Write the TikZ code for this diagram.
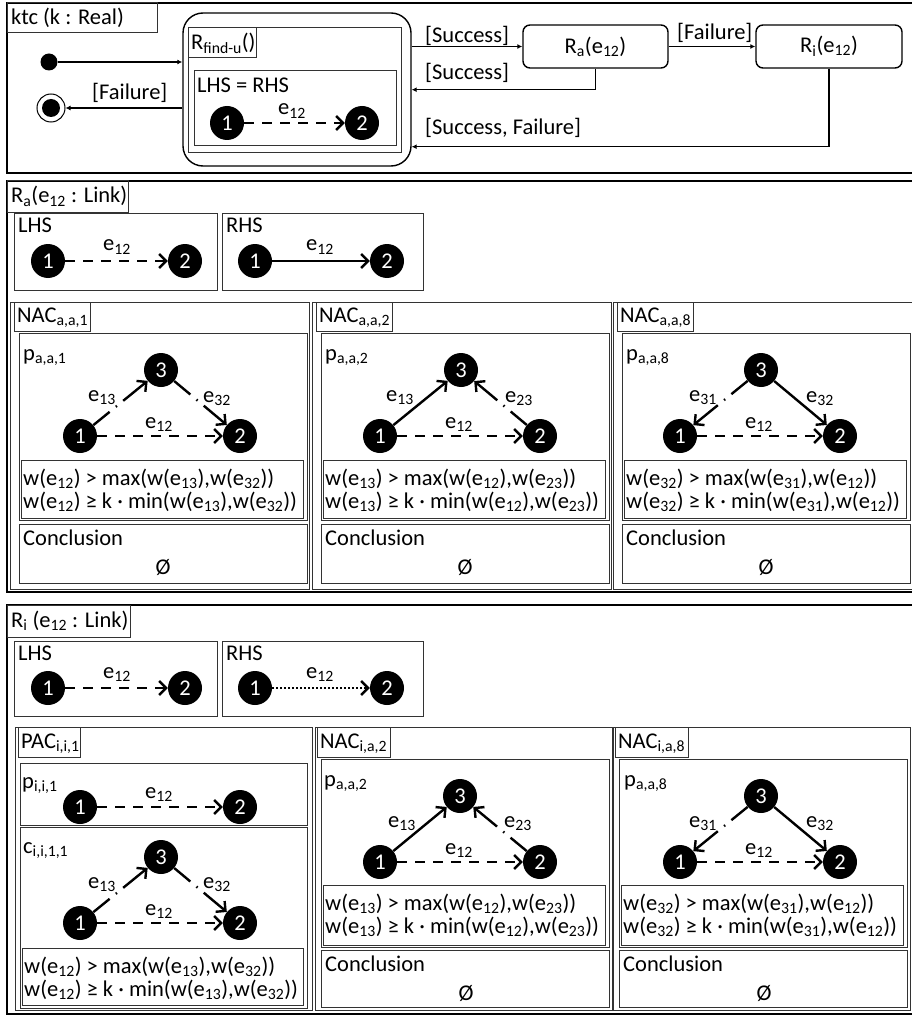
\documentclass[tikz,border=0pt]{standalone}
\usepackage{fontspec}
\setmainfont{Carlito}
\usetikzlibrary{arrows.meta}
\newcommand\elab[1]{e\textsubscript{#1}}
\newcommand\wtx[1]{w(e\textsubscript{#1})}
\begin{document}
\begin{tikzpicture}[x=1pt,y=-1pt,
  every node/.style={font=\fontsize{22.5}{24}\selectfont},
  txt/.style={inner sep=0pt, anchor=base west},
  ctxt/.style={inner sep=0pt, anchor=base},
  frame/.style={draw=black, line width=1.4pt},
  box/.style={draw=black!80, line width=1pt},
  vtx/.style={circle, fill=black, text=white, minimum size=34pt, inner sep=0pt},
  edge/.style={line width=2.4pt, -{Straight Barb[length=7pt,width=14pt]}},
  dsh/.style={edge, dash pattern=on 10pt off 8pt},
  dd/.style={edge, dash pattern=on 21pt off 8pt on 1.5pt off 8pt on 300pt off 1pt},
  dots/.style={edge, dash pattern=on 2pt off 2pt},
  flow/.style={line width=1.4pt, -{Latex[length=5pt,width=5pt]}},
]
\useasboundingbox (0,0) rectangle (911,1016);

% ---------------- control flow: ktc ----------------
\draw[frame] (914,3) -| (7,173) -- (914,173);
\draw[box] (7,3) rectangle (157,33);
\node[txt] (ktc) at (11,25) {ktc (k : Real)};

\node[draw, line width=1.4pt, rounded corners=20pt, minimum width=228pt, minimum height=153pt, inner sep=0pt] (rfind) at (297,89.5) {};
\draw[box] (188,28) rectangle (401,153);
\draw[box] (188,28) rectangle (256,58);
\node[txt] (rfindlab) at (191,50) {R\textsubscript{find-u}()};
\draw[box] (194,71) rectangle (396,146);
\node[txt] (lhsrhs) at (197,93) {LHS = RHS};
\node[vtx] (t1) at (227,123) {1};
\node[vtx] (t2) at (362,123) {2};
\draw[dsh] (t1) -- (t2);
\node[ctxt] (t12) at (292,115) {\elab{12}};

\node[circle, fill=black, minimum size=17pt, inner sep=0pt] (init) at (49,62) {};
\node[circle, draw=black, line width=1pt, minimum size=28pt, inner sep=0pt] (final) at (51,108) {};
\node[circle, fill=black, minimum size=18pt, inner sep=0pt] (finaldot) at (final.center) {};

\node[draw, line width=1.4pt, rounded corners=7pt, minimum width=145pt, minimum height=43pt] (ra) at (595.5,46.5) {R\textsubscript{a}(e\textsubscript{12})};
\node[draw, line width=1.4pt, rounded corners=7pt, minimum width=146pt, minimum height=43pt] (ri) at (829,46.5) {R\textsubscript{i}(e\textsubscript{12})};

\draw[flow] (init) -- (init -| rfind.west);
\draw[flow] (final -| rfind.west) -- (final);
\draw[flow] (rfind.east |- ra.west) -- (ra);
\draw[flow] (ra) -- (ri);
\draw[flow] (ra.south) -- ++(0,21) coordinate (back1) -- (back1 -| rfind.east);
\draw[flow] (ri.south) -- ++(0,78) coordinate (back2) -- (back2 -| rfind.east);

\node[txt] (lfail) at (92,100) {[Failure]};
\node[txt] (lsucc1) at (425,43) {[Success]};
\node[txt] (lfail2) at (677,40) {[Failure]};
\node[txt] (lsucc2) at (425,80) {[Success]};
\node[txt] (lsf) at (425,135) {[Success, Failure]};

% ---------------- rule R_a ----------------
\draw[frame] (914,181) -| (7,592) -- (914,592);
\draw[box] (7,181) rectangle (128,213);
\node[txt] (ratitle) at (11,203) {R\textsubscript{a}(e\textsubscript{12} : Link)};

\draw[box] (14,214) rectangle (217,290);
\node[txt] (ralhs) at (18,233) {LHS};
\node[vtx] (ral1) at (48,261) {1};
\node[vtx] (ral2) at (185,261) {2};
\draw[dsh] (ral1) -- (ral2);
\node[ctxt] (ral12) at (117,251) {\elab{12}};

\draw[box] (222,214) rectangle (423,290);
\node[txt] (rarhs) at (226,233) {RHS};
\node[vtx] (rar1) at (255,261) {1};
\node[vtx] (rar2) at (387,261) {2};
\draw[edge] (rar1) -- (rar2);
\node[ctxt] (rar12) at (320,251) {\elab{12}};

\foreach \L/\nm/\A/\B/\C in {10/{a,a,1}/12/13/32, 312/{a,a,2}/13/12/23, 613/{a,a,8}/32/31/12} {
  \draw[box] (\L,302) rectangle (\L+299,589);
  \draw[box] (\L+4,302) rectangle (\L+80,331);
  \node[txt] (nac\L) at (\L+7,322) {NAC\textsubscript{\nm}};
  \draw[box] (\L+9,333) rectangle (\L+297,520);
  \node[txt] (pl\L) at (\L+13,360) {p\textsubscript{\nm}};
  \draw[box] (\L+11,460) rectangle (\L+293,518);
  \node[txt] (ca\L) at (\L+13,485) {\wtx{\A} > max(\wtx{\B},\wtx{\C})};
  \node[txt] (cb\L) at (\L+13,508) {\wtx{\A} ≥ k · min(\wtx{\B},\wtx{\C})};
  \draw[box] (\L+9,524) rectangle (\L+297,583);
  \node[txt] (co\L) at (\L+13,545) {Conclusion};
  \node[ctxt] (em\L) at (\L+153,574) {Ø};
}

% NAC a,a,1
\node[vtx] (a1v1) at (80,436) {1};
\node[vtx] (a1v2) at (240,436) {2};
\node[vtx] (a1v3) at (161,370) {3};
\draw[dd] (a1v1) -- (a1v3);
\draw[dd] (a1v3) -- (a1v2);
\draw[dsh] (a1v1) -- (a1v2);
\node[ctxt] (a1e13) at (102,401) {\elab{13}};
\node[ctxt] (a1e32) at (217,402) {\elab{32}};
\node[ctxt] (a1e12) at (159,428) {\elab{12}};

% NAC a,a,2
\node[vtx] (a2v1) at (380,436) {1};
\node[vtx] (a2v2) at (540,436) {2};
\node[vtx] (a2v3) at (461,370) {3};
\draw[edge] (a2v1) -- (a2v3);
\draw[dd] (a2v2) -- (a2v3);
\draw[dsh] (a2v1) -- (a2v2);
\node[ctxt] (a2e13) at (400,401) {\elab{13}};
\node[ctxt] (a2e23) at (519,402) {\elab{23}};
\node[ctxt] (a2e12) at (459,428) {\elab{12}};

% NAC a,a,8
\node[vtx] (a8v1) at (680,436) {1};
\node[vtx] (a8v2) at (840,436) {2};
\node[vtx] (a8v3) at (761,370) {3};
\draw[dd] (a8v3) -- (a8v1);
\draw[edge] (a8v3) -- (a8v2);
\draw[dsh] (a8v1) -- (a8v2);
\node[ctxt] (a8e31) at (703,401) {\elab{31}};
\node[ctxt] (a8e32) at (820,402) {\elab{32}};
\node[ctxt] (a8e12) at (759,428) {\elab{12}};

% ---------------- rule R_i ----------------
\draw[frame] (914,605) -| (7,1014) -- (914,1014);
\draw[box] (7,605) rectangle (130,637);
\node[txt] (rititle) at (11,627) {R\textsubscript{i} (e\textsubscript{12} : Link)};

\draw[box] (14,641) rectangle (217,716);
\node[txt] (rilhs) at (18,660) {LHS};
\node[vtx] (ril1) at (48,688) {1};
\node[vtx] (ril2) at (185,688) {2};
\draw[dsh] (ril1) -- (ril2);
\node[ctxt] (ril12) at (117,678) {\elab{12}};

\draw[box] (222,641) rectangle (423,716);
\node[txt] (rirhs) at (226,660) {RHS};
\node[vtx] (rir1) at (255,688) {1};
\node[vtx] (rir2) at (387,688) {2};
\draw[dots] (rir1) -- (rir2);
\node[ctxt] (rir12) at (320,678) {\elab{12}};

% PAC i,i,1
\draw[box] (15,727) rectangle (312,1010);
\draw[box] (18,727) rectangle (80,757);
\node[txt] (pac) at (21,748) {PAC\textsubscript{i,i,1}};
\draw[box] (20,763) rectangle (307,825);
\node[txt] (pacp) at (22,788) {p\textsubscript{i,i,1}};
\node[vtx] (pp1) at (80,807) {1};
\node[vtx] (pp2) at (240,807) {2};
\draw[dsh] (pp1) -- (pp2);
\node[ctxt] (pp12) at (159,798) {\elab{12}};
\draw[box] (20,827) rectangle (307,1008);
\node[txt] (pacc) at (23,853) {c\textsubscript{i,i,1,1}};
\node[vtx] (pc1) at (80,923) {1};
\node[vtx] (pc2) at (240,923) {2};
\node[vtx] (pc3) at (161,857) {3};
\draw[dd] (pc1) -- (pc3);
\draw[dd] (pc3) -- (pc2);
\draw[dsh] (pc1) -- (pc2);
\node[ctxt] (pc13) at (102,888) {\elab{13}};
\node[ctxt] (pc32) at (217,888) {\elab{32}};
\node[ctxt] (pc12) at (159,915) {\elab{12}};
\draw[box] (22,948) rectangle (303,1005);
\node[txt] (pca) at (24,973) {\wtx{12} > max(\wtx{13},\wtx{32})};
\node[txt] (pcb) at (24,996) {\wtx{12} ≥ k · min(\wtx{13},\wtx{32})};

\foreach \L/\nm/\A/\B/\C in {315/{i,a,2}/13/12/23, 613/{i,a,8}/32/31/12} {
  \draw[box] (\L,727) rectangle (\L+297,1010);
  \draw[box] (\L+2,727) rectangle (\L+75,757);
  \node[txt] (inac\L) at (\L+5,748) {NAC\textsubscript{\nm}};
  \draw[box] (\L+6,759) rectangle (\L+294,947);
  \draw[box] (\L+8,885) rectangle (\L+290,945);
  \node[txt] (ica\L) at (\L+10,910) {\wtx{\A} > max(\wtx{\B},\wtx{\C})};
  \node[txt] (icb\L) at (\L+10,933) {\wtx{\A} ≥ k · min(\wtx{\B},\wtx{\C})};
  \draw[box] (\L+6,950) rectangle (\L+294,1007);
  \node[txt] (ico\L) at (\L+10,971) {Conclusion};
  \node[ctxt] (iem\L) at (\L+151,1000) {Ø};
}

% NAC i,a,2
\node[txt] (ip2) at (324,786) {p\textsubscript{a,a,2}};
\node[vtx] (b2v1) at (380,862) {1};
\node[vtx] (b2v2) at (540,862) {2};
\node[vtx] (b2v3) at (460,796) {3};
\draw[edge] (b2v1) -- (b2v3);
\draw[dd] (b2v2) -- (b2v3);
\draw[dsh] (b2v1) -- (b2v2);
\node[ctxt] (b2e13) at (402,827) {\elab{13}};
\node[ctxt] (b2e23) at (518,827) {\elab{23}};
\node[ctxt] (b2e12) at (459,854) {\elab{12}};

% NAC i,a,8
\node[txt] (ip8) at (624,786) {p\textsubscript{a,a,8}};
\node[vtx] (b8v1) at (680,862) {1};
\node[vtx] (b8v2) at (840,862) {2};
\node[vtx] (b8v3) at (761,796) {3};
\draw[dd] (b8v3) -- (b8v1);
\draw[edge] (b8v3) -- (b8v2);
\draw[dsh] (b8v1) -- (b8v2);
\node[ctxt] (b8e31) at (703,827) {\elab{31}};
\node[ctxt] (b8e32) at (820,827) {\elab{32}};
\node[ctxt] (b8e12) at (759,854) {\elab{12}};
\end{tikzpicture}
\end{document}
